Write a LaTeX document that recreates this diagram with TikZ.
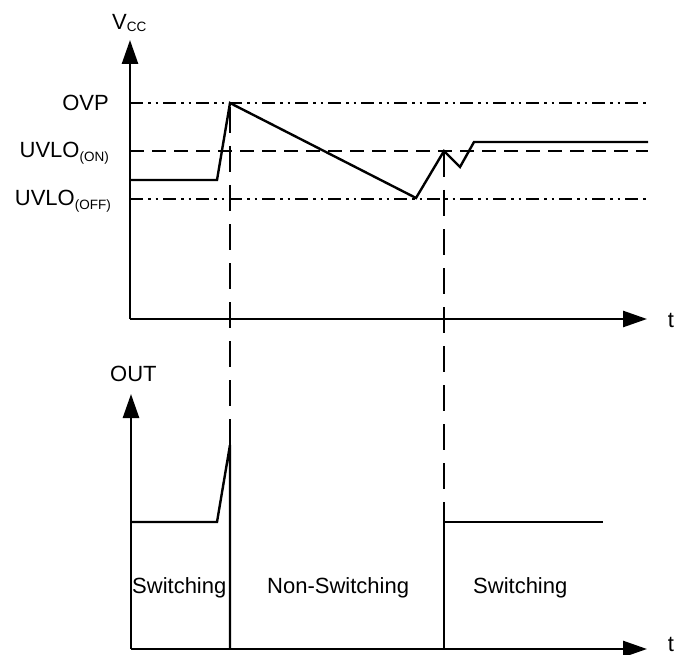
\documentclass[tikz,border=0pt]{standalone}
\usepackage{fontspec}
\setmainfont{Liberation Sans}
\usetikzlibrary{arrows.meta}

\newcommand{\subtxt}[2][-4pt]{\raisebox{#1}{\fontsize{13.5}{15}\selectfont #2}}

\begin{document}
\begin{tikzpicture}[x=1pt,y=-1pt,
  axis/.style={line width=2.6pt,-{Triangle[length=24pt,width=16pt]}},
  trace/.style={line width=2.4pt,line join=miter},
  onlevel/.style={line width=2.5pt,dash pattern=on 14pt off 8pt},
  limit/.style={line width=2.5pt,dash pattern=on 13pt off 5pt on 2.5pt off 5pt on 2.5pt off 5pt},
  marker/.style={line width=2.5pt,dash pattern=on 26pt off 13pt},
  lbl/.style={font=\fontsize{22}{26}\selectfont,inner sep=0pt}]
  \useasboundingbox (0,0) rectangle (685,655);

  \draw[axis] (130,319) -- (130,40);
  \draw[axis] (130,319) -- (647,319);
  \node[lbl,anchor=base west] (vcc) at (112,30) {V\subtxt[-1.5pt]{CC}};
  \node[lbl,anchor=base] (ttop) at (671,327) {t};

  \draw[limit] (130,103) -- (647,103);
  \draw[onlevel] (130,151) -- (648,151);
  \draw[limit] (130,199) -- (647,199);
  \node[lbl,anchor=base east] (ovp) at (109,111) {OVP};
  \node[lbl,anchor=base east] (uvloon) at (109,158) {UVLO\subtxt{(ON)}};
  \node[lbl,anchor=base east] (uvlooff) at (111,205) {UVLO\subtxt{(OFF)}};

  \draw[trace] (130,180) -- (217,180) -- (230,103) -- (416,198) -- (444,151)
    -- (460,167) -- (474,142) -- (648,142);

  \draw[marker] (230,107) -- (230,445);
  \draw[marker] (444,151) -- (444,522);

  \draw[axis] (131,649) -- (131,394);
  \draw[axis] (131,649) -- (647,649);
  \node[lbl,anchor=base west] (out) at (110,381) {OUT};
  \node[lbl,anchor=base] (tbot) at (671,651) {t};

  \draw[trace] (131,522) -- (217,522) -- (230,445) -- (230,649);
  \draw[trace] (444,649) -- (444,522) -- (603,522);

  \node[lbl,anchor=base west] (swa) at (132,593) {Switching};
  \node[lbl,anchor=base west] (nsw) at (267,593) {Non-Switching};
  \node[lbl,anchor=base west] (swb) at (473,593) {Switching};
\end{tikzpicture}
\end{document}
